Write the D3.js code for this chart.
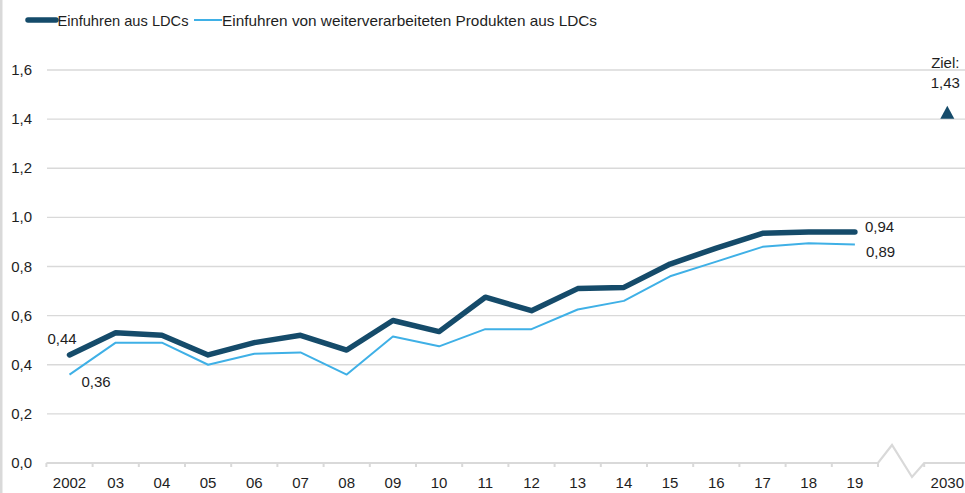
<!DOCTYPE html>
<html>
<head>
<meta charset="utf-8">
<script src="https://cdn.jsdelivr.net/npm/d3@7/dist/d3.min.js"></script>
<style>
  html, body { margin: 0; padding: 0; background: #fff; }
  svg { display: block; font-family: "Liberation Sans", Arial, sans-serif; }
</style>
</head>
<body>
<svg id="chart" width="965" height="493"></svg>
<script>
// Categories on the x axis ("" is the slot for the axis break)
const categories = ["2002","03","04","05","06","07","08","09","10","11","12","13","14","15","16","17","18","19","","2030"];
const years = categories.slice(0, 18);

// Einfuhren aus LDCs
const importsAll = [0.44,0.53,0.52,0.44,0.49,0.52,0.46,0.58,0.535,0.675,0.62,0.71,0.715,0.81,0.875,0.935,0.94,0.94];
// Einfuhren von weiterverarbeiteten Produkten aus LDCs
const importsProcessed = [0.36,0.49,0.49,0.40,0.445,0.45,0.36,0.515,0.475,0.545,0.545,0.625,0.66,0.76,0.82,0.88,0.895,0.89];

const targetYear = "2030";
const targetValue = 1.43;

const yTicks = [0, 0.2, 0.4, 0.6, 0.8, 1.0, 1.2, 1.4, 1.6];
const legendLabels = ["Einfuhren aus LDCs", "Einfuhren von weiterverarbeiteten Produkten aus LDCs"];

const dark = "#154b6a";
const light = "#3fb0e6";
const grid = "#d9d9d9";
const textColor = "#1e1e1e";
const fmt = v => d3.format(".2f")(v).replace(".", ",");

const svg = d3.select("#chart");

const x = d3.scaleBand().domain(categories).range([46.4, 970.4]).padding(0);
const cx = c => x(c) + x.bandwidth() / 2;
const y = d3.scaleLinear().domain([0, 1.6]).range([463, 70]);

// left frame edge
svg.append("rect").attr("x", 0).attr("y", 0).attr("width", 2.5).attr("height", 493).attr("fill", grid);

// horizontal grid lines
svg.append("g").selectAll("line").data(yTicks.slice(1)).join("line")
  .attr("x1", 47).attr("x2", 965)
  .attr("y1", d => y(d)).attr("y2", d => y(d))
  .attr("stroke", grid).attr("stroke-width", 1.4);

// y tick labels
svg.append("g").selectAll("text").data(yTicks).join("text")
  .attr("x", 32).attr("y", d => y(d) + 5)
  .attr("text-anchor", "end").attr("font-size", 15).attr("fill", textColor)
  .text(d => d3.format(".1f")(d).replace(".", ","));

// x axis with break between 2019 and 2030
const y0 = y(0);
const breakStart = x("");
const breakEnd = x("2030");
const axisPath = d3.path();
axisPath.moveTo(x(categories[0]), y0);
axisPath.lineTo(breakStart, y0);
axisPath.lineTo(breakStart + 14, y0 - 18);
axisPath.lineTo(breakStart + 34, y0 + 14);
axisPath.lineTo(breakEnd, y0);
axisPath.lineTo(970, y0);
svg.append("path").attr("d", axisPath.toString())
  .attr("fill", "none").attr("stroke", grid).attr("stroke-width", 2.2).attr("stroke-linejoin", "miter");

// tick marks at category boundaries
const tickPos = categories.slice(0, 19).map(c => x(c)).concat([x("2030")]);
svg.append("g").selectAll("line").data(tickPos).join("line")
  .attr("x1", d => d).attr("x2", d => d)
  .attr("y1", y0).attr("y2", y0 + 4)
  .attr("stroke", grid).attr("stroke-width", 2);

// x tick labels
svg.append("g").selectAll("text").data(categories.filter(c => c !== "")).join("text")
  .attr("x", d => cx(d)).attr("y", 488)
  .attr("text-anchor", "middle").attr("font-size", 15).attr("fill", textColor)
  .text(d => d);

// series lines
const line = d3.line().x((d, i) => cx(years[i])).y(d => y(d));
svg.append("path").datum(importsProcessed).attr("d", line)
  .attr("fill", "none").attr("stroke", light).attr("stroke-width", 2).attr("stroke-linejoin", "round");
svg.append("path").datum(importsAll).attr("d", line)
  .attr("fill", "none").attr("stroke", dark).attr("stroke-width", 5.5)
  .attr("stroke-linejoin", "round").attr("stroke-linecap", "round");

// value labels
const last = years.length - 1;
const labels = [
  { x: cx(years[0]) - 22, y: y(importsAll[0]) - 11, v: importsAll[0] },
  { x: cx(years[0]) + 12, y: y(importsProcessed[0]) + 12, v: importsProcessed[0] },
  { x: cx(years[last]) + 10, y: y(importsAll[last]) + 0, v: importsAll[last] },
  { x: cx(years[last]) + 11, y: y(importsProcessed[last]) + 13, v: importsProcessed[last] }
];
svg.append("g").selectAll("text").data(labels).join("text")
  .attr("x", d => d.x).attr("y", d => d.y)
  .attr("font-size", 15).attr("fill", textColor)
  .text(d => fmt(d.v));

// 2030 target marker
const tx = cx(targetYear), ty = y(targetValue);
svg.append("path")
  .attr("d", `M${tx - 7},${ty + 7}L${tx},${ty - 6}L${tx + 7},${ty + 7}Z`)
  .attr("fill", dark);
svg.append("text").attr("x", tx - 2).attr("y", 68).attr("text-anchor", "middle")
  .attr("font-size", 15).attr("fill", textColor).text("Ziel:");
svg.append("text").attr("x", tx - 2).attr("y", 88).attr("text-anchor", "middle")
  .attr("font-size", 15).attr("fill", textColor).text(fmt(targetValue));

// legend
const lg = svg.append("g");
lg.append("line").attr("x1", 28).attr("x2", 56).attr("y1", 20).attr("y2", 20)
  .attr("stroke", dark).attr("stroke-width", 5.5).attr("stroke-linecap", "round");
lg.append("text").attr("x", 57.5).attr("y", 25.5).attr("font-size", 15).attr("fill", textColor)
  .attr("textLength", 131).attr("lengthAdjust", "spacingAndGlyphs").text(legendLabels[0]);
lg.append("line").attr("x1", 194).attr("x2", 222).attr("y1", 20).attr("y2", 20)
  .attr("stroke", light).attr("stroke-width", 2);
lg.append("text").attr("x", 222).attr("y", 25.5).attr("font-size", 15).attr("fill", textColor)
  .attr("textLength", 375).attr("lengthAdjust", "spacingAndGlyphs").text(legendLabels[1]);
</script>
</body>
</html>
